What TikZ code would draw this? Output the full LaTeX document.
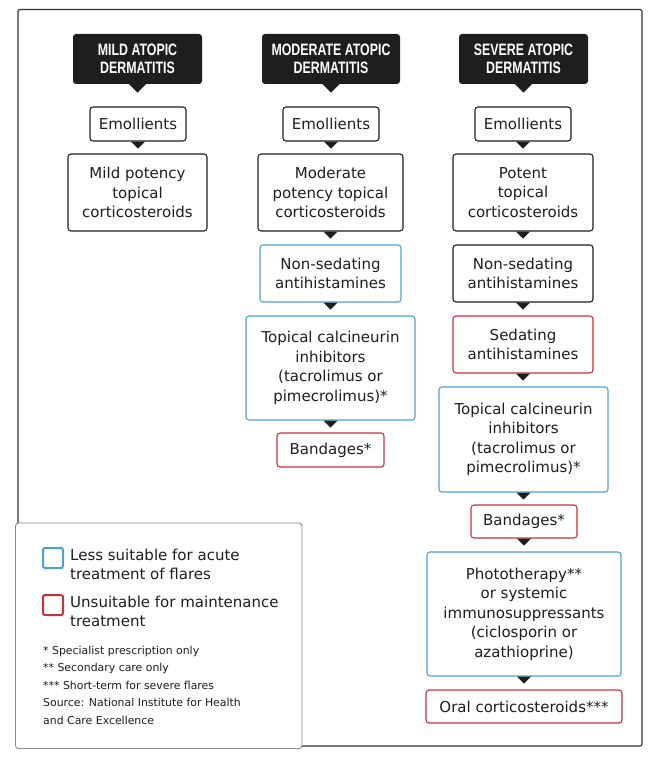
\documentclass[tikz,border=0pt]{standalone}
\usepackage{fontspec}
\setmainfont{DejaVu Sans}
\newfontfamily\headfont{Liberation Sans}[FakeStretch=0.75]
\definecolor{ink}{HTML}{1E1E1E}
\definecolor{frame}{HTML}{333333}
\definecolor{lightblue}{HTML}{4AA3CF}
\definecolor{warnred}{HTML}{C9313D}
\definecolor{legendgray}{HTML}{8A8A8A}

\begin{document}
\begin{tikzpicture}[x=1pt,y=-1pt,
        box/.style={draw=ink, line width=1.1pt, rounded corners=3pt, fill=white, align=center,
            inner sep=0pt, text=ink, font=\fontsize{15}{19.5}\selectfont},
        bluebox/.style={box, draw=lightblue},
        redbox/.style={box, draw=warnred},
        head/.style={fill=ink, rounded corners=3pt, align=center, inner sep=0pt, text=white,
            font=\headfont\bfseries\fontsize{16.5}{18}\selectfont}]
            \useasboundingbox (0,0) rectangle (660,767);

            \draw[frame, line width=1.2pt, rounded corners=2pt] (18,9.5) rectangle (642,746);

            % headers
            \node[head, minimum width=129, minimum height=50] (h1) at (137.5,59) {MILD ATOPIC\\DERMATITIS};
            \node[head, minimum width=138, minimum height=50] (h2) at (331,59) {MODERATE ATOPIC\\DERMATITIS};
            \node[head, minimum width=129, minimum height=50] (h3) at (523.5,59) {SEVERE ATOPIC\\DERMATITIS};

            % mild
            \node[box, minimum width=96, minimum height=34] (e1) at (138,124) {Emollients};
            \node[box, minimum width=139, minimum height=77] (m1) at (137.5,192.5) {Mild potency\\topical\\corticosteroids};

            % moderate
            \node[box, minimum width=96, minimum height=34] (e2) at (331,124) {Emollients};
            \node[box, minimum width=145, minimum height=77] (m2) at (330.5,192.5) {Moderate\\potency topical\\corticosteroids};
            \node[bluebox, minimum width=141, minimum height=57] (n2) at (330.5,273.5) {Non-sedating\\antihistamines};
            \node[bluebox, minimum width=169, minimum height=104] (t2) at (330.5,368) {Topical calcineurin\\inhibitors\\(tacrolimus or\\pimecrolimus)*};
            \node[redbox, minimum width=107, minimum height=34] (b2) at (330.5,450) {Bandages*};

            % severe
            \node[box, minimum width=96, minimum height=34] (e3) at (523,124) {Emollients};
            \node[box, minimum width=140, minimum height=77] (m3) at (523,192.5) {Potent\\topical\\corticosteroids};
            \node[box, minimum width=140, minimum height=57] (n3) at (523,273.5) {Non-sedating\\antihistamines};
            \node[redbox, minimum width=140, minimum height=57] (s3) at (523,344.5) {Sedating\\antihistamines};
            \node[bluebox, minimum width=169, minimum height=105] (t3) at (523.5,439.5) {Topical calcineurin\\inhibitors\\(tacrolimus or\\pimecrolimus)*};
            \node[redbox, minimum width=106, minimum height=33] (b3) at (524,521.5) {Bandages*};
            \node[bluebox, minimum width=194, minimum height=124] (p3) at (524,614) {Phototherapy**\\or systemic\\immunosuppressants\\(ciclosporin or\\azathioprine)};
            \node[redbox, minimum width=196, minimum height=33] (o3) at (524,706.5) {Oral corticosteroids***};

            % pointers
            \foreach \n in {h1,h2,h3}{
                \fill[ink] (\n.south) ++(-9,-0.5) -- ++(18,0) -- ++(-9,9) -- cycle;
            }
            \foreach \n in {e1,e2,m2,n2,t2,e3,m3,n3,s3,t3,b3,p3}{
                \fill[ink] (\n.south) ++(-7,0) -- ++(14,0) -- ++(-7,7) -- cycle;
            }

            % legend
            \draw[legendgray, fill=white, line width=0.9pt, rounded corners=3pt] (15.5,523) rectangle (302,748.5);
            \draw[lightblue, line width=2pt, rounded corners=2pt] (43,548) rectangle (63,568);
            \draw[warnred, line width=2pt, rounded corners=2pt] (43,595) rectangle (63,615);
            \node[anchor=north west, inner sep=0pt, align=left, text=ink, font=\fontsize{15}{19}\selectfont] (l1) at (70,549) {Less suitable for acute\\treatment of flares};
            \node[anchor=north west, inner sep=0pt, align=left, text=ink, font=\fontsize{15}{19}\selectfont] (l2) at (70,596) {Unsuitable for maintenance\\treatment};
            \node[anchor=north west, inner sep=0pt, align=left, text=ink, font=\fontsize{10.9}{17.4}\selectfont] (notes) at (43,646) {* Specialist prescription only\\** Secondary care only\\*** Short-term for severe flares\\Source: National Institute for Health\\and Care Excellence};
        \end{tikzpicture}
\end{document}
